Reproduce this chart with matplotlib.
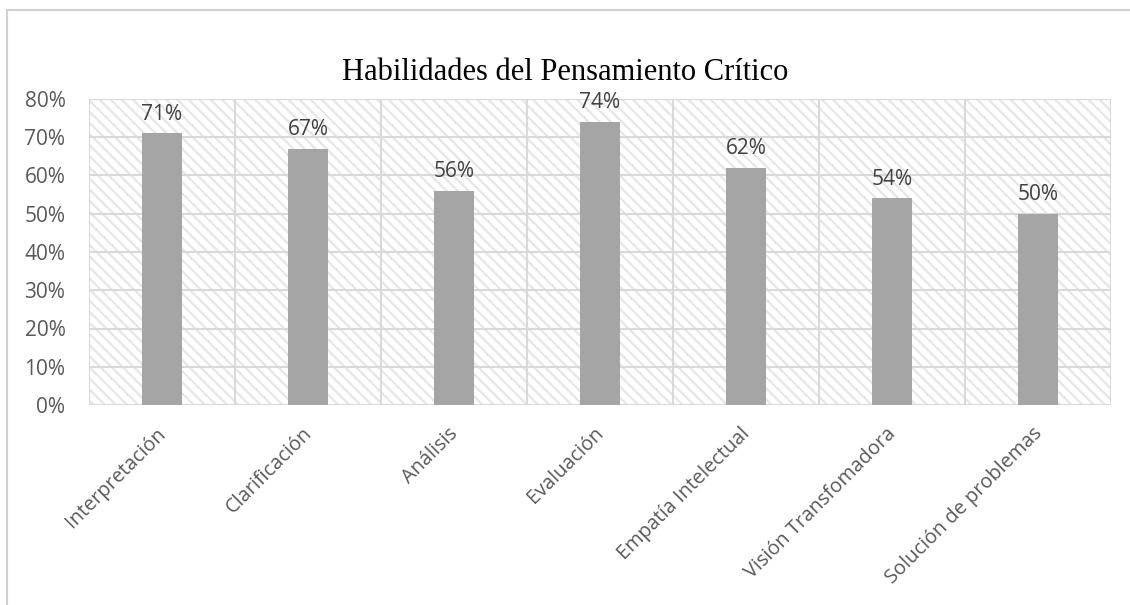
import matplotlib
matplotlib.use("Agg")
import matplotlib.pyplot as plt
import matplotlib.transforms as mtransforms
from matplotlib.patches import Rectangle
from matplotlib.lines import Line2D
import numpy as np

categories = ["Interpretación", "Clarificación", "Análisis", "Evaluación",
              "Empatía Intelectual", "Visión Transfomadora", "Solución de problemas"]
values = [71, 67, 56, 74, 62, 54, 50]
yticks = [0, 10, 20, 30, 40, 50, 60, 70, 80]

plt.rcParams['font.family'] = ['Open Sans', 'DejaVu Sans']
plt.rcParams['hatch.linewidth'] = 1.6

fig = plt.figure(figsize=(11.3, 6.05), dpi=100)
ax = fig.add_axes([89 / 1130, 1 - 405 / 605, (1111 - 89) / 1130, (405 - 99) / 605])

grid_col = '#D9D9D9'

# hatched background
bg = Rectangle((0, 0), 1, 1, transform=ax.transAxes, facecolor='white',
               edgecolor='#E6E6E6', hatch='\\\\\\', linewidth=0, zorder=0)
ax.add_patch(bg)

x = np.arange(len(categories))
ax.bar(x, values, width=0.27, color='#A5A5A5', zorder=3)

for xi, v in zip(x, values):
    ax.text(xi, v + 2.3, f"{v}%", ha='center', va='bottom', fontsize=15,
            color='#404040', zorder=4)

ax.set_xlim(-0.5, len(categories) - 0.5)
ax.set_ylim(0, 80)
ax.set_yticks(yticks)
ax.set_yticklabels([f"{t}%" for t in yticks], fontsize=15, color='#595959')
ax.set_xticks(x)
ax.set_xticklabels(categories, rotation=45, ha='right', rotation_mode='anchor',
                   fontsize=14.3, color='#595959')
ax.tick_params(axis='y', length=0, pad=17)
ax.tick_params(axis='x', length=0, pad=12)

# nudge the rotated labels a bit left
shift = mtransforms.ScaledTranslation(-0.06, -0.02, fig.dpi_scale_trans)
for lbl in ax.get_xticklabels():
    lbl.set_transform(lbl.get_transform() + shift)

for t in yticks:
    ax.axhline(t, color=grid_col, lw=1.5, zorder=1)
for b in np.arange(-0.5, len(categories) + 0.5, 1):
    ax.axvline(b, color=grid_col, lw=1.5, zorder=1)

for s in ax.spines.values():
    s.set_visible(False)

fig.text(565 / 1130, 1 - 72 / 605, "Habilidades del Pensamiento Crítico",
         ha='center', va='center', fontsize=22, family='Liberation Serif', color='black')

# page frame lines
fig.add_artist(Line2D([7 / 1130, 7 / 1130], [0, 1 - 10 / 605], color='#D0D0D0', lw=1.5))
fig.add_artist(Line2D([7 / 1130, 1], [1 - 10 / 605, 1 - 10 / 605], color='#D0D0D0', lw=1.5))

fig.savefig("out.png", dpi=100)
